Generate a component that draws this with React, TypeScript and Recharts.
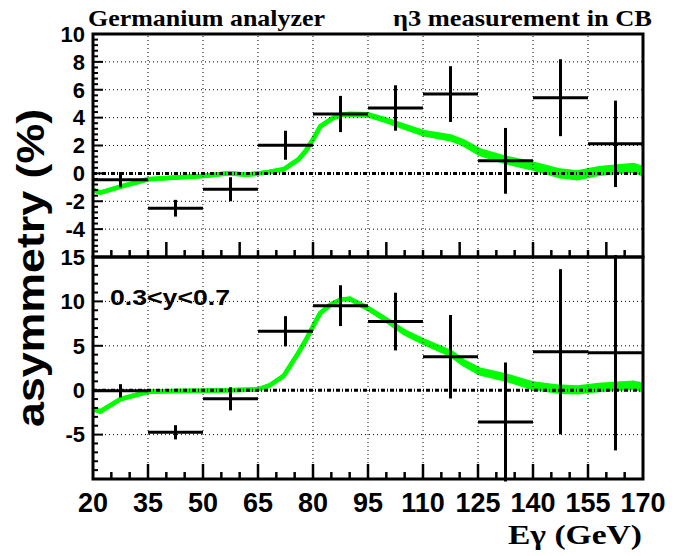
import React from "react";
import { ComposedChart, Area, Scatter, ErrorBar, XAxis, YAxis, ReferenceLine, ReferenceArea } from "recharts";

// bin edges of the measurement (GeV)
const binEdges = [20, 35, 50, 65, 80, 95, 110, 125, 140, 155, 170];

// measured asymmetry (%) per bin, with statistical errors
const topAsym = [-0.45, -2.5, -1.14, 2.02, 4.26, 4.69, 5.69, 0.9, 5.43, 2.12];
const topErr = [0.55, 0.6, 0.86, 1.04, 1.3, 1.63, 2.0, 2.36, 2.76, 3.1];
const botAsym = [-0.07, -4.74, -0.97, 6.64, 9.52, 7.73, 3.77, -3.58, 4.33, 4.22];
const botErr = [0.75, 0.8, 1.3, 1.7, 2.3, 3.25, 4.7, 6.7, 9.3, 11.0];

// prediction band (centre and full width)
const curveE = [20, 22, 27.5, 35, 42.5, 50, 57, 62, 65, 68, 72, 76, 78, 80, 82, 85, 87.5, 90, 95, 100, 105, 110, 117.5, 121, 125.5, 132.8, 140, 147.4, 152, 158, 163, 167.4, 170];
const topCurve = [-1.19, -1.38, -0.95, -0.42, -0.3, -0.19, 0.0, -0.1, 0.0, 0.1, 0.29, 1.0, 1.6, 2.43, 3.38, 3.9, 4.2, 4.25, 4.2, 3.8, 3.35, 2.9, 2.55, 2.2, 1.52, 0.95, 0.52, 0.0, -0.14, 0.17, 0.3, 0.4, 0.15];
const topSpread = [0, 0, 0, 0, 0, 0, 0, 0, 0, 0, 0, 0, 0, 0, 0, 0, 0, 0.05, 0.08, 0.1, 0.12, 0.15, 0.2, 0.22, 0.25, 0.3, 0.35, 0.4, 0.4, 0.4, 0.4, 0.4, 0.4];
const botCurve = [-2.13, -2.39, -1.0, -0.18, -0.1, -0.07, 0.0, 0.05, 0.1, 0.5, 1.6, 4.2, 5.6, 7.2, 8.7, 9.7, 10.2, 10.3, 9.2, 7.9, 6.5, 5.5, 4.15, 3.1, 2.1, 1.4, 0.5, 0.1, 0.04, 0.3, 0.45, 0.55, 0.3];
const botSpread = [0, 0, 0, 0, 0, 0, 0, 0, 0, 0, 0, 0, 0, 0, 0, 0, 0, 0.05, 0.1, 0.15, 0.2, 0.25, 0.3, 0.35, 0.4, 0.45, 0.5, 0.55, 0.55, 0.55, 0.55, 0.55, 0.55];

// tick labels
const xLabels = [20, 35, 50, 65, 80, 95, 110, 125, 140, 155, 170];
const topYLabels = [-4, -2, 0, 2, 4, 6, 8, 10];
const botYLabels = [-5, 0, 5, 10, 15];

const SANS = "'Liberation Sans', Arial, Helvetica, sans-serif";
const SERIF = "'Liberation Serif', 'Times New Roman', serif";
const GREEN = "#00ff00";
const W = 696;
const H = 556;
const LEFT = 93;
const RIGHT = 53;
const X_DOMAIN: [number, number] = [20, 170];

function steps(from: number, to: number, step: number) {
  const out: number[] = [];
  for (let i = 0; from + i * step <= to + 1e-9; i++) out.push(Math.round((from + i * step) * 100) / 100);
  return out;
}

function toPoints(vals: number[], errs: number[]) {
  return vals.map((a, i) => ({
    e: (binEdges[i] + binEdges[i + 1]) / 2,
    a,
    ex: (binEdges[i + 1] - binEdges[i]) / 2,
    ey: errs[i],
  }));
}

function toBand(centre: number[], spread: number[]) {
  return curveE.map((e, i) => ({ e, band: [centre[i] - spread[i] / 2, centre[i] + spread[i] / 2] }));
}

interface PanelProps {
  band: { e: number; band: number[] }[];
  points: { e: number; a: number; ex: number; ey: number }[];
  yDomain: [number, number];
  yLabels: number[];
  top: number;
  bottom: number;
  showXLabels: boolean;
}

function Panel({ band, points, yDomain, yLabels, top, bottom, showXLabels }: PanelProps) {
  const gridY = yLabels.filter((v) => v !== 0 && v > yDomain[0] && v < yDomain[1]);
  return (
    <div style={{ position: "absolute", left: 0, top: 0 }}>
      <ComposedChart width={W} height={H} data={band} margin={{ top, right: RIGHT, bottom: bottom - 1, left: 0 }}>
        <XAxis
          dataKey="e"
          type="number"
          domain={X_DOMAIN}
          allowDataOverflow
          ticks={xLabels}
          interval={0}
          height={1}
          tickSize={0}
          tickMargin={14}
          tickLine={false}
          axisLine={false}
          tick={showXLabels ? { fontSize: 27, fontWeight: "bold", fill: "#000", fontFamily: SANS } : false}
        />
        <YAxis
          type="number"
          domain={yDomain}
          allowDataOverflow
          ticks={yLabels}
          interval={0}
          width={LEFT}
          tickSize={0}
          tickMargin={8}
          tickLine={false}
          axisLine={false}
          tick={{ fontSize: 22, fontWeight: "bold", fill: "#000", fontFamily: SANS }}
        />
        {xLabels.slice(1, -1).map((v) => (
          <ReferenceLine key={"gx" + v} x={v} stroke="#000" strokeWidth={1} strokeDasharray="1 3" />
        ))}
        {gridY.map((v) => (
          <ReferenceLine key={"gy" + v} y={v} stroke="#000" strokeWidth={1} strokeDasharray="1 3" />
        ))}
        <Area
          type="linear"
          dataKey="band"
          stroke={GREEN}
          strokeWidth={4.5}
          fill={GREEN}
          fillOpacity={1}
          isAnimationActive={false}
          activeDot={false}
        />
        <ReferenceLine y={0} stroke="#000" strokeWidth={3} strokeDasharray="4 2 1 2" />
        <Scatter data={points} dataKey="a" shape={() => <g />} isAnimationActive={false}>
          <ErrorBar dataKey="ex" direction="x" width={0} stroke="#000" strokeWidth={3} />
          <ErrorBar dataKey="ey" direction="y" width={0} stroke="#000" strokeWidth={3} />
        </Scatter>
        <ReferenceArea
          x1={X_DOMAIN[0]}
          x2={X_DOMAIN[1]}
          y1={yDomain[0]}
          y2={yDomain[1]}
          fill="none"
          fillOpacity={0}
          stroke="#000"
          strokeWidth={3}
          strokeOpacity={1}
        />
      </ComposedChart>
    </div>
  );
}

// inward tick marks on the frame of one panel (axis decoration only)
function FrameTicks({ top, bottom, yDomain, yLabels, yMinorStep, xMajorStep }: {
  top: number; bottom: number; yDomain: [number, number]; yLabels: number[]; yMinorStep: number; xMajorStep: number;
}) {
  const plotW = W - LEFT - RIGHT;
  const xPx = (v: number) => LEFT + ((v - X_DOMAIN[0]) / (X_DOMAIN[1] - X_DOMAIN[0])) * plotW;
  const yPx = (v: number) => top + ((yDomain[1] - v) / (yDomain[1] - yDomain[0])) * (bottom - top);
  return (
    <g>
      {steps(25, 165, 5).map((v) => {
        const len = Math.abs((v - 20) % xMajorStep) < 1e-6 ? 15 : 7;
        return <line key={"x" + v} x1={xPx(v)} x2={xPx(v)} y1={bottom} y2={bottom - len} stroke="#000" strokeWidth={2.5} />;
      })}
      {steps(yDomain[0], yDomain[1], yMinorStep)
        .filter((v) => v > yDomain[0] && v < yDomain[1])
        .map((v) => {
          const len = yLabels.includes(v) ? 10 : 5;
          return <line key={"y" + v} x1={LEFT} x2={LEFT + len} y1={yPx(v)} y2={yPx(v)} stroke="#000" strokeWidth={2} />;
        })}
    </g>
  );
}

export default function App() {
  return (
    <div style={{ position: "absolute", left: 0, top: 0, width: W, height: H, background: "#fff" }}>
      <Panel
        band={toBand(topCurve, topSpread)}
        points={toPoints(topAsym, topErr)}
        yDomain={[-6, 10]}
        yLabels={topYLabels}
        top={34}
        bottom={H - 257}
        showXLabels={false}
      />
      <Panel
        band={toBand(botCurve, botSpread)}
        points={toPoints(botAsym, botErr)}
        yDomain={[-10, 15]}
        yLabels={botYLabels}
        top={257}
        bottom={H - 479}
        showXLabels={true}
      />
      <svg width={W} height={H} style={{ position: "absolute", left: 0, top: 0, pointerEvents: "none" }}>
        <FrameTicks top={34} bottom={257} yDomain={[-6, 10]} yLabels={topYLabels} yMinorStep={0.4} xMajorStep={20} />
        <FrameTicks top={257} bottom={479} yDomain={[-10, 15]} yLabels={botYLabels} yMinorStep={1} xMajorStep={15} />
        <text x={88} y={26} fontFamily={SERIF} fontWeight="bold" fontSize={24} textLength={237} lengthAdjust="spacingAndGlyphs">
          Germanium analyzer
        </text>
        <text x={393} y={26} fontFamily={SERIF} fontWeight="bold" fontSize={24} textLength={259} lengthAdjust="spacingAndGlyphs">
          η3 measurement in CB
        </text>
        <text x={110} y={305} fontFamily={SANS} fontWeight="bold" fontSize={22} textLength={120} lengthAdjust="spacingAndGlyphs">
          0.3&lt;y&lt;0.7
        </text>
        <text
          transform="translate(44, 268) rotate(-90)"
          textAnchor="middle"
          fontFamily={SANS}
          fontWeight="bold"
          fontSize={38}
          textLength={318}
          lengthAdjust="spacingAndGlyphs"
        >
          asymmetry (%)
        </text>
        <text x={508} y={544} fontFamily={SERIF} fontWeight="bold" fontSize={27} textLength={134} lengthAdjust="spacingAndGlyphs">
          Eγ (GeV)
        </text>
      </svg>
    </div>
  );
}
